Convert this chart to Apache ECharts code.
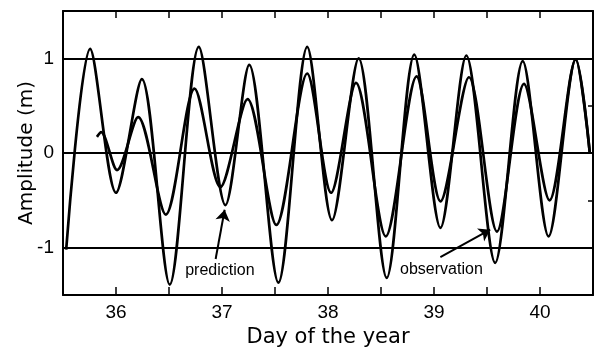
<!DOCTYPE html>
<html>
<head>
<meta charset="utf-8">
<script src="https://cdn.jsdelivr.net/npm/echarts@6/dist/echarts.min.js"></script>
<style>
  html, body { margin: 0; padding: 0; background: #fff; }
  #main { width: 596px; height: 356px; }
</style>
</head>
<body>
<div id="main"></div>
<script>
// values (day of year, amplitude in m), peaks and troughs
var predDay = [35.53, 35.756, 36.0, 36.244, 36.507, 36.781, 37.032, 37.257, 37.532, 37.804, 38.038, 38.289, 38.554, 38.814, 39.061, 39.305, 39.577, 39.837, 40.081, 40.337, 40.47];
var predAmp = [-1.02, 1.10, -0.42, 0.78, -1.39, 1.12, -0.55, 0.93, -1.37, 1.12, -0.71, 1.00, -1.32, 1.04, -0.79, 1.03, -1.16, 0.97, -0.88, 0.99, 0.0];

var obsDay = [35.82, 35.86, 36.01, 36.209, 36.47, 36.741, 36.985, 37.241, 37.513, 37.804, 38.029, 38.264, 38.545, 38.836, 39.061, 39.330, 39.594, 39.849, 40.09, 40.337, 40.47];
var obsAmp = [0.17, 0.22, -0.18, 0.38, -0.65, 0.68, -0.36, 0.57, -0.76, 0.84, -0.42, 0.74, -0.88, 0.81, -0.51, 0.80, -0.83, 0.73, -0.50, 0.99, 0.0];

var refLevels = [-1, 0, 1];

// annotation labels with their arrows (data coords)
var noteText = ['prediction', 'observation'];
var noteAt = [[36.98, -1.24], [39.07, -1.23]];
var noteTail = [[36.94, -1.12], [39.06, -1.10]];
var noteTip = [[37.025, -0.60], [39.53, -0.81]];

function pairs(xs, ys) {
	var out = [];
	for (var i = 0; i < xs.length; i++) out.push([xs[i], ys[i]]);
	return out;
}

var myChart = echarts.init(document.getElementById('main'));

var black = '#000';
var fnt = 'Liberation Sans, Arial, Helvetica, sans-serif';

var arrowData = [], labelData = [];
noteText.forEach(function (t, i) {
	arrowData.push([{ coord: noteTail[i] }, { coord: noteTip[i] }]);
	labelData.push({ name: t, coord: noteAt[i] });
});

function intOnly(v) { return v % 1 === 0 ? String(v) : ''; }

var option = {
	animation: false,
	backgroundColor: '#fff',
	grid: { left: 63, right: 2, top: 11, bottom: 61 },
	xAxis: [{
		type: 'value', min: 35.5, max: 40.5, interval: 0.5,
		name: 'Day of the year', nameLocation: 'middle', nameGap: 28,
		nameTextStyle: { fontFamily: 'DejaVu Sans', fontSize: 21, color: black },
		axisLine: { onZero: false, lineStyle: { color: black, width: 2 } },
		axisTick: { inside: true, length: 8, lineStyle: { color: black, width: 1.5 } },
		axisLabel: { margin: 8, fontFamily: fnt, fontSize: 19, color: black, formatter: intOnly },
		splitLine: { show: false }
	}, {
		type: 'value', position: 'top', min: 35.5, max: 40.5, interval: 0.5,
		axisLine: { show: true, onZero: false, lineStyle: { color: black, width: 2 } },
		axisTick: { show: true, inside: true, length: 7, lineStyle: { color: black, width: 1.5 } },
		axisLabel: { show: false },
		splitLine: { show: false }
	}],
	yAxis: [{
		type: 'value', min: -1.5, max: 1.5, interval: 0.5,
		name: 'Amplitude (m)', nameLocation: 'middle', nameGap: 26, nameMoveOverlap: false,
		nameTextStyle: { fontFamily: 'DejaVu Sans', fontSize: 20, color: black },
		axisLine: { show: true, onZero: false, lineStyle: { color: black, width: 2 } },
		axisTick: { show: false },
		axisLabel: { margin: 9, fontFamily: fnt, fontSize: 19, color: black, formatter: intOnly },
		splitLine: { show: false }
	}, {
		type: 'value', position: 'right', min: -1.5, max: 1.5, interval: 0.5,
		axisLine: { show: true, onZero: false, lineStyle: { color: black, width: 2 } },
		axisTick: { show: true, inside: true, length: 5, lineStyle: { color: black, width: 1.5 } },
		axisLabel: { show: false },
		splitLine: { show: false }
	}],
	series: [{
		name: 'prediction',
		type: 'line',
		data: pairs(predDay, predAmp),
		showSymbol: false,
		smooth: 0.3,
		lineStyle: { color: black, width: 2.7 },
		markLine: {
			silent: true, symbol: 'none', label: { show: false },
			lineStyle: { color: black, width: 2, type: 'solid' },
			data: refLevels.map(function (v) { return { yAxis: v }; })
		},
		markPoint: {
			silent: true, symbol: 'circle', symbolSize: 0,
			label: {
				show: true, position: 'inside', color: black, fontFamily: fnt, fontSize: 16,
				formatter: function (p) { return p.name; }
			},
			data: labelData
		},
		z: 3
	}, {
		name: 'observation',
		type: 'line',
		data: pairs(obsDay, obsAmp),
		showSymbol: false,
		smooth: 0.3,
		lineStyle: { color: black, width: 2.7 },
		markLine: {
			silent: true, symbol: ['none', 'arrow'], symbolSize: 11,
			label: { show: false },
			lineStyle: { color: black, width: 2, type: 'solid' },
			data: arrowData
		},
		z: 3
	}]
};

myChart.setOption(option);
window.onresize = myChart.resize;
</script>
</body>
</html>
